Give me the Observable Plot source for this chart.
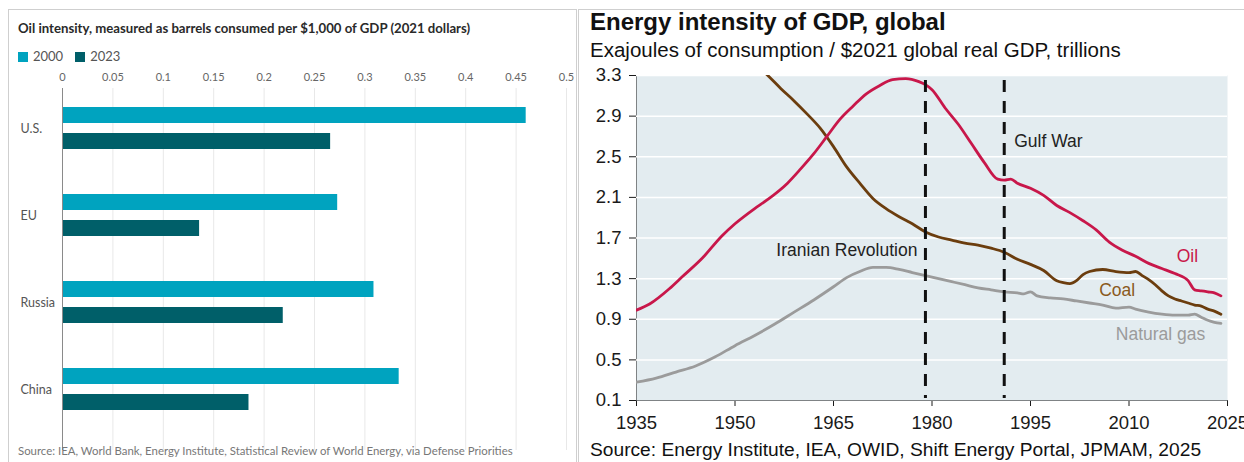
<!DOCTYPE html>
<html>
<head>
<meta charset="utf-8">
<script src="https://cdn.jsdelivr.net/npm/d3@7"></script>
<script src="https://cdn.jsdelivr.net/npm/@observablehq/plot@0.6"></script>
<style>
  html, body { margin: 0; padding: 0; background: #fff; }
  #page { position: relative; width: 1244px; height: 462px; overflow: hidden; }
  .abs { position: absolute; white-space: nowrap; }
  #leftBox { left: 8px; top: 9px; width: 569px; height: 480px; border: 1px solid #cfcfcf; box-sizing: border-box; }
  #rightBox { left: 578px; top: 9px; width: 700px; height: 480px; border: 1px solid #cfcfcf; box-sizing: border-box; }
  #leftTitle { left: 18px; top: 20px; font: 700 13.2px Lato, sans-serif; color: #2a2a2a; }
  #legend { left: 18px; top: 48px; font: 400 13px Lato, sans-serif; color: #555; }
  #legend .sw { display: inline-block; width: 10px; height: 10px; margin-right: 5px; vertical-align: -1px; }
  #legend .item { margin-right: 12px; }
  #leftSource { left: 18px; top: 444px; font: 400 11.4px Lato, sans-serif; color: #777; }
  #rightTitle { left: 590px; top: 8px; font: 700 24px "Liberation Sans", Arial, sans-serif; color: #111; }
  #rightSub { left: 590px; top: 38px; font: 400 20.5px "Liberation Sans", Arial, sans-serif; color: #111; }
  #rightSource { left: 590px; top: 439px; font: 400 19.2px "Liberation Sans", Arial, sans-serif; color: #111; }
  #leftPlot { left: 0px; top: 64px; }
  #rightPlot { left: 578px; top: 60px; }
</style>
</head>
<body>
<div id="page">
  <div class="abs" id="leftBox"></div>
  <div class="abs" id="rightBox"></div>
  <div class="abs" id="leftTitle">Oil intensity, measured as barrels consumed per $1,000 of GDP (2021 dollars)</div>
  <div class="abs" id="legend"></div>
  <div class="abs" id="leftPlot"></div>
  <div class="abs" id="leftSource">Source: IEA, World Bank, Energy Institute, Statistical Review of World Energy, via Defense Priorities</div>
  <div class="abs" id="rightTitle">Energy intensity of GDP, global</div>
  <div class="abs" id="rightSub">Exajoules of consumption / $2021 global real GDP, trillions</div>
  <div class="abs" id="rightPlot"></div>
  <div class="abs" id="rightSource">Source: Energy Institute, IEA, OWID, Shift Energy Portal, JPMAM, 2025</div>
</div>
<script>
// ---- Oil intensity by economy (barrels per $1,000 of GDP) ----
const countries = ["U.S.", "EU", "Russia", "China"];
const oil2000 = [0.46, 0.273, 0.309, 0.334];
const oil2023 = [0.266, 0.136, 0.219, 0.185];
const barTicks = [0, 0.05, 0.1, 0.15, 0.2, 0.25, 0.3, 0.35, 0.4, 0.45, 0.5];
const yearKeys = ["2000", "2023"];
const yearColors = ["#00a3bf", "#005f69"];

// ---- Global energy intensity of GDP (EJ per $2021 trillion) ----
const oilYears  = [1935,1937,1940,1942,1945,1948,1950,1953,1955,1958,1960,1962,1964,1966,1968,1970,1972,1974,1976,1978,1979,1980,1982,1984,1986,1988,1990,1991,1992,1993,1995,1997,1999,2001,2003,2005,2007,2009,2011,2013,2015,2017,2019,2020,2021,2022,2023,2024];
const oilValues = [0.99,1.05,1.2,1.32,1.5,1.72,1.84,1.99,2.08,2.24,2.38,2.53,2.7,2.87,3.0,3.12,3.2,3.26,3.27,3.24,3.21,3.16,2.98,2.82,2.63,2.44,2.28,2.27,2.28,2.24,2.19,2.12,2.02,1.95,1.87,1.78,1.66,1.58,1.52,1.45,1.4,1.35,1.28,1.19,1.18,1.17,1.16,1.13];
const coalYears  = [1953,1955,1957,1959,1961,1963,1965,1967,1969,1971,1973,1975,1977,1979,1981,1983,1985,1987,1989,1991,1993,1995,1997,1999,2000,2001,2002,2003,2004,2006,2008,2010,2011,2012,2013,2014,2015,2016,2017,2018,2019,2020,2021,2022,2023,2024];
const coalValues = [3.42,3.3,3.17,3.05,2.92,2.78,2.6,2.4,2.24,2.09,1.99,1.91,1.84,1.76,1.71,1.68,1.65,1.63,1.6,1.56,1.49,1.44,1.38,1.28,1.26,1.25,1.28,1.34,1.37,1.39,1.37,1.36,1.37,1.33,1.29,1.24,1.18,1.13,1.1,1.08,1.06,1.04,1.03,1.0,0.98,0.95];
const gasYears  = [1935,1938,1941,1944,1947,1950,1953,1956,1959,1962,1965,1967,1969,1971,1973,1975,1977,1979,1981,1983,1985,1987,1989,1991,1993,1994,1995,1996,1998,2000,2002,2004,2006,2008,2010,2011,2013,2015,2017,2019,2020,2021,2022,2023,2024];
const gasValues = [0.28,0.32,0.38,0.44,0.53,0.64,0.74,0.85,0.97,1.09,1.22,1.31,1.37,1.41,1.41,1.39,1.36,1.33,1.3,1.27,1.24,1.21,1.19,1.17,1.16,1.15,1.17,1.13,1.11,1.1,1.08,1.06,1.04,1.01,1.02,1.0,0.97,0.95,0.94,0.94,0.95,0.92,0.89,0.87,0.86];
const yearTicks = [1935, 1950, 1965, 1980, 1995, 2010, 2025];
const intensityTicks = [0.1, 0.5, 0.9, 1.3, 1.7, 2.1, 2.5, 2.9, 3.3];

// Event markers and their label heights (in EJ units)
const eventNames = ["Iranian Revolution", "Gulf War"];
const eventYears = [1979, 1991];
const eventLabelY = [1.58, 2.65];

// Series labels placed beside the lines
const seriesNames = ["Oil", "Coal", "Natural gas"];
const seriesLabelYears = [2018.9, 2008.2, 2014.8];
const seriesLabelValues = [1.52, 1.18, 0.75];
const seriesColors = ["#c8174a", "#6b3d0e", "#9b9b9b"];
const seriesLabelColors = ["#c8174a", "#8a5a1c", "#9b9b9b"];

// ---------- Left: grouped horizontal bars ----------
const legend = document.getElementById("legend");
yearKeys.forEach((k, i) => {
  const s = document.createElement("span");
  s.className = "item";
  s.innerHTML = `<span class="sw" style="background:${yearColors[i]}"></span>${k}`;
  legend.appendChild(s);
});

const rows2000 = countries.map((c, i) => ({country: c, value: oil2000[i]}));
const rows2023 = countries.map((c, i) => ({country: c, value: oil2023[i]}));

const leftChart = Plot.plot({
  width: 576,
  height: 392,
  marginLeft: 62,
  marginRight: 10,
  marginTop: 24,
  marginBottom: 6,
  style: {fontFamily: "Lato, sans-serif", fontSize: "11px", color: "#666", background: "transparent", overflow: "visible"},
  x: {domain: [0, 0.5], axis: "top", ticks: barTicks, tickFormat: d => String(d), tickSize: 0, tickPadding: 8, label: null},
  y: {domain: countries, paddingInner: 0.519, paddingOuter: 0.338, align: 0.32, axis: null},
  marks: [
    Plot.ruleX(barTicks.slice(1), {stroke: "#e8e8e8", strokeWidth: 1}),
    Plot.barX(rows2000, {x: "value", y: "country", fill: yearColors[0], insetBottom: 26}),
    Plot.barX(rows2023, {x: "value", y: "country", fill: yearColors[1], insetTop: 26}),
    Plot.ruleX([0], {stroke: "#8a8a8a", strokeWidth: 1}),
    Plot.text(countries, {y: d => d, frameAnchor: "left", textAnchor: "start", dx: -42, fill: "#555", fontSize: 12.5})
  ]
});
document.getElementById("leftPlot").appendChild(leftChart);

// ---------- Right: energy intensity lines ----------
const toSeries = (years, values) => years.map((y, i) => ({year: y, value: values[i]}));
const oil = toSeries(oilYears, oilValues);
const coal = toSeries(coalYears, coalValues);
const gas = toSeries(gasYears, gasValues);
const events = eventNames.map((n, i) => ({name: n, year: eventYears[i], labelY: eventLabelY[i]}));
const seriesLabels = seriesNames.map((n, i) => ({name: n, year: seriesLabelYears[i], value: seriesLabelValues[i], color: seriesLabelColors[i]}));

const lineStyle = {x: "year", y: "value", strokeWidth: 2.8, curve: "monotone-x", clip: true};

const rightChart = Plot.plot({
  width: 666,
  height: 380,
  marginLeft: 58,
  marginRight: 17,
  marginTop: 15,
  marginBottom: 40,
  style: {fontFamily: "'Liberation Sans', Arial, sans-serif", fontSize: "18.5px", color: "#1a1a1a", background: "transparent", overflow: "visible"},
  x: {domain: [1935, 2025], ticks: yearTicks, tickFormat: d => String(d), tickSize: 6, tickPadding: 9, line: true, label: null},
  y: {domain: [0.1, 3.3], ticks: intensityTicks, tickFormat: d3.format(".1f"), tickSize: 7, tickPadding: 8, line: true, label: null},
  marks: [
    Plot.frame({fill: "#e3ecf0", stroke: "none"}),
    Plot.ruleY(intensityTicks.slice(1), {stroke: "#ffffff", strokeWidth: 1.5}),
    Plot.line(gas, {...lineStyle, stroke: seriesColors[2]}),
    Plot.line(coal, {...lineStyle, stroke: seriesColors[1]}),
    Plot.line(oil, {...lineStyle, stroke: seriesColors[0]}),
    Plot.ruleX(events, {x: "year", y1: 3.25, y2: 0.12, stroke: "#111", strokeWidth: 3, strokeDasharray: "12,9"}),
    Plot.text(events.filter(d => d.name === "Iranian Revolution"), {x: "year", y: "labelY", text: "name", textAnchor: "end", dx: -8, fill: "#222", fontSize: 17.5}),
    Plot.text(events.filter(d => d.name === "Gulf War"), {x: "year", y: "labelY", text: "name", textAnchor: "start", dx: 10, fill: "#222", fontSize: 17.5}),
    ...seriesLabels.map(d => Plot.text([d], {x: "year", y: "value", text: "name", fill: d.color, fontSize: 17.5}))
  ]
});
document.getElementById("rightPlot").appendChild(rightChart);
</script>
</body>
</html>
